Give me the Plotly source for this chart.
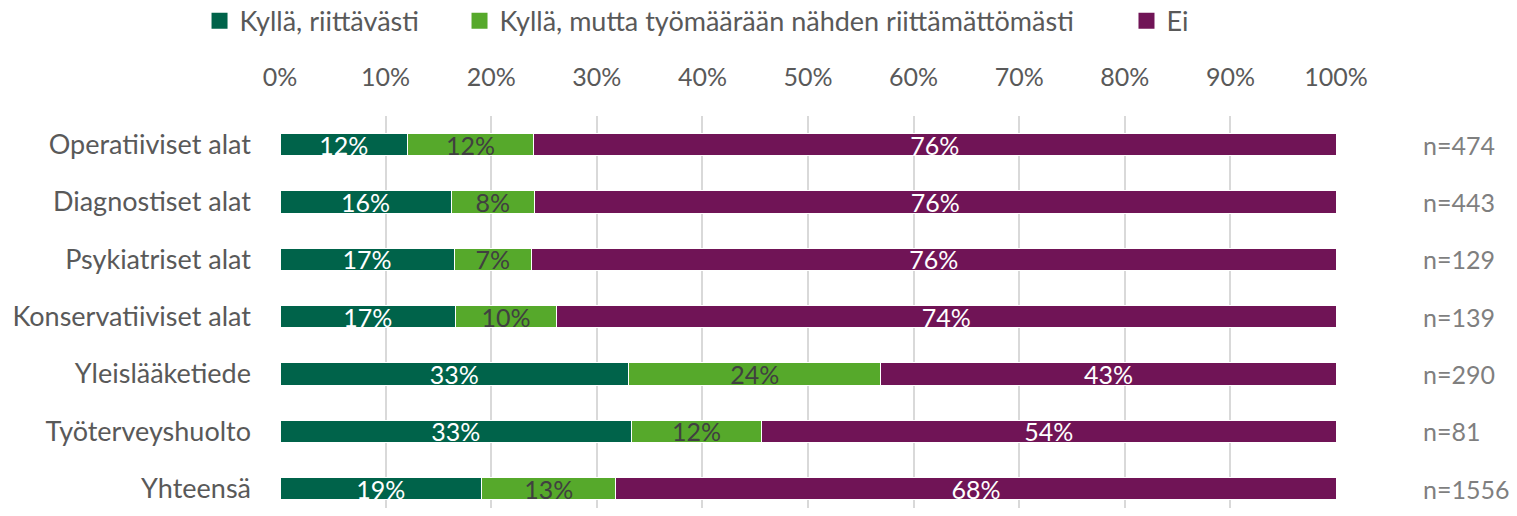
import plotly.graph_objects as go

categories = ["Operatiiviset alat", "Diagnostiset alat", "Psykiatriset alat",
              "Konservatiiviset alat", "Yleislääketiede", "Työterveyshuolto", "Yhteensä"]
kylla_riittavasti = [12.1, 16.2, 16.5, 16.6, 33.0, 33.3, 19.1]
kylla_riittamattomasti = [11.9, 7.9, 7.3, 9.6, 23.9, 12.3, 12.7]
ei = [76.0, 75.9, 76.2, 73.8, 43.1, 54.4, 68.2]
n_labels = ["n=474", "n=443", "n=129", "n=139", "n=290", "n=81", "n=1556"]
tick_vals = [0, 10, 20, 30, 40, 50, 60, 70, 80, 90, 100]
tick_text = ["0%", "10%", "20%", "30%", "40%", "50%", "60%", "70%", "80%", "90%", "100%"]

FONT = "Lato, 'Open Sans', sans-serif"
series = [
    ("Kyllä, riittävästi", kylla_riittavasti, "#00634A", "white", "legend", -0.0762),
    ("Kyllä, mutta työmäärään nähden riittämättömästi", kylla_riittamattomasti, "#56A92B", "#404040", "legend2", 0.170),
    ("Ei", ei, "#701456", "white", "legend3", 0.8016),
]

fig = go.Figure()
for name, vals, color, tcolor, leg, _ in series:
    fig.add_trace(go.Bar(
        y=categories, x=vals, name=name, orientation="h", showlegend=False,
        marker=dict(color=color, line=dict(color="white", width=1)),
        texttemplate="%{x:.0f}%", textposition="inside", insidetextanchor="middle",
        textangle=0, constraintext="none",
        insidetextfont=dict(color=tcolor, size=25, family=FONT),
    ))
    # legend entry with a larger square marker
    fig.add_trace(go.Scatter(
        x=[None], y=[None], mode="markers", name=name, legend=leg, showlegend=True,
        marker=dict(symbol="square", size=16, color=color),
    ))

for cat, lab in zip(categories, n_labels):
    fig.add_annotation(x=1.0805, xref="paper", y=cat, yref="y", text=lab,
                       showarrow=False, xanchor="left",
                       font=dict(size=25, color="#7F7F7F", family=FONT))

legend_common = dict(orientation="h", xanchor="left", y=1.242, yanchor="middle",
                     font=dict(size=27, color="#595959", family=FONT),
                     bgcolor="rgba(0,0,0,0)")
leg_layout = {}
for name, vals, color, tcolor, leg, lx in series:
    leg_layout[leg] = dict(legend_common, x=lx)

fig.update_layout(
    barmode="stack", bargap=0.61,
    width=1501, height=500,
    margin=dict(l=272, r=173, t=108, b=0, autoexpand=False),
    plot_bgcolor="white", paper_bgcolor="white",
    font=dict(family=FONT, size=26, color="#595959"),
    showlegend=True,
    xaxis=dict(side="top", range=[0, 100], tickvals=tick_vals, ticktext=tick_text,
               showgrid=True, gridcolor="#D9D9D9", gridwidth=2, zeroline=False,
               ticks="", ticklabelstandoff=24, fixedrange=True, automargin=False,
               tickfont=dict(size=25, color="#595959")),
    yaxis=dict(range=[6.34, -0.5], autorange=False, showgrid=False, ticks="",
               ticklabelstandoff=28, automargin=False, fixedrange=True,
               tickfont=dict(size=27, color="#595959")),
    **leg_layout,
)

fig.write_html("out.html")
